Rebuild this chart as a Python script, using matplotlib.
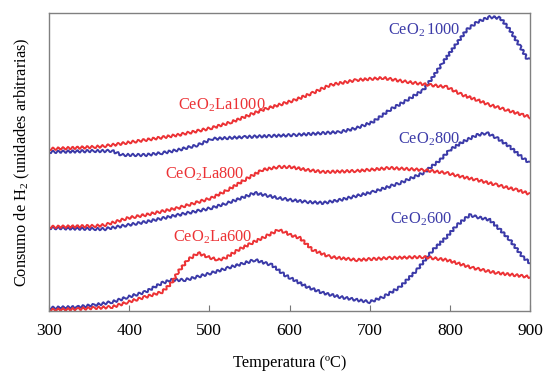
import matplotlib
matplotlib.use("Agg")
import matplotlib.pyplot as plt

plt.rcParams['font.family'] = ['Liberation Serif', 'DejaVu Serif']
plt.rcParams['mathtext.fontset'] = 'custom'
plt.rcParams['mathtext.rm'] = 'Liberation Serif'
plt.rcParams['mathtext.it'] = 'Liberation Serif:italic'

# temperatures (C) and signal (arbitrary units)
t_b1000 = [300, 357, 379, 391, 420, 441, 461, 486, 503, 544, 607, 663, 684, 704, 725,
           747, 767, 779, 791, 809, 821, 834, 850, 863, 875, 888, 896, 900]
y_b1000 = [152, 151, 151, 155, 155, 153, 150, 145, 139, 137, 135, 132, 128, 122, 110,
           100, 90, 77, 63, 43, 30, 22, 17, 18, 30, 47, 58, 60]

t_r1000 = [300, 357, 370, 379, 420, 461, 503, 528, 566, 607, 629, 651, 684, 717, 747,
           775, 796, 816, 834, 850, 871, 891, 900]
y_r1000 = [149, 147, 146, 145, 140, 135, 128, 122, 110, 100, 93, 85, 80, 78, 82,
           85, 87, 95, 100, 105, 110, 115, 117]

t_b800 = [300, 357, 370, 399, 420, 461, 503, 523, 557, 586, 601, 622, 642, 663, 704,
          738, 767, 788, 800, 816, 834, 846, 859, 875, 891, 900]
y_b800 = [228, 229, 229, 225, 222, 215, 208, 203, 193, 198, 200, 202, 203, 200, 192,
          183, 173, 160, 150, 142, 135, 133, 138, 147, 158, 163]

t_r800 = [300, 357, 370, 399, 420, 461, 503, 523, 544, 566, 586, 601, 622, 642, 684,
          725, 767, 796, 816, 834, 859, 884, 900]
y_r800 = [227, 226, 225, 218, 215, 208, 198, 190, 180, 170, 167, 167, 170, 172, 171,
          168, 170, 173, 177, 180, 185, 190, 194]

t_b600 = [300, 336, 357, 379, 399, 420, 441, 453, 470, 503, 523, 544, 557, 578, 594,
          601, 622, 642, 663, 684, 700, 717, 738, 759, 779, 796, 809, 825, 834, 850,
          863, 875, 891, 900]
y_b600 = [308, 307, 305, 302, 297, 292, 283, 280, 280, 273, 268, 263, 260, 265, 275,
          278, 287, 293, 297, 300, 302, 297, 287, 270, 250, 237, 225, 215, 217, 220,
          230, 240, 257, 263]

t_r600 = [300, 336, 357, 379, 399, 420, 441, 453, 461, 473, 486, 498, 511, 520, 536,
          553, 569, 586, 594, 601, 613, 629, 651, 684, 725, 767, 796, 829, 859, 900]
y_r600 = [310, 309, 308, 307, 302, 297, 292, 283, 272, 260, 253, 257, 260, 258, 250,
          243, 237, 230, 232, 235, 238, 250, 257, 260, 258, 257, 260, 268, 273, 277]

red = '#ec3235'
blue = '#3b3aa8'

fig = plt.figure(figsize=(5.45, 3.76), dpi=100)
ax = fig.add_axes([0.0899, 0.1729, 0.8826, 0.7925])

series = [
    (t_b1000, y_b1000, blue), (t_r1000, y_r1000, red),
    (t_b800, y_b800, blue), (t_r800, y_r800, red),
    (t_b600, y_b600, blue), (t_r600, y_r600, red),
]
for t, y, c in series:
    ln, = ax.plot(t, [311 - v for v in y], color=c, lw=1.4)
    ln.set_sketch_params(1.3, 5, 1.2)

labels = [
    (178, 110, r'CeO$_\mathrm{2}$La1000', red),
    (388, 35, r'CeO$_\mathrm{2}\,$1000', blue),
    (165, 179, r'CeO$_\mathrm{2}$La800', red),
    (398, 144, r'CeO$_\mathrm{2}$800', blue),
    (173, 242, r'CeO$_\mathrm{2}$La600', red),
    (390, 224, r'CeO$_\mathrm{2}$600', blue),
]
for px, py, s, c in labels:
    ax.text(300 + (px - 49) * 600 / 481, 311 - py, s, color=c, fontsize=11.8,
            ha='left', va='baseline')

ax.set_xlim(300, 900)
ax.set_ylim(0, 298)
ax.set_xticks([300, 400, 500, 600, 700, 800, 900])
ax.set_yticks([])
ax.tick_params(axis='x', direction='in', length=4, pad=9, labelsize=12.5,
               color='#777777', top=False)
for sp in ax.spines.values():
    sp.set_color('#808080')
    sp.set_linewidth(1.0)

ax.set_xlabel('Temperatura (ºC)', fontsize=11.8, labelpad=11)
ax.set_ylabel('Consumo de H$_\\mathrm{2}$ (unidades arbitrarias)', fontsize=11.8,
              labelpad=12)

fig.savefig('out.png', dpi=100)
